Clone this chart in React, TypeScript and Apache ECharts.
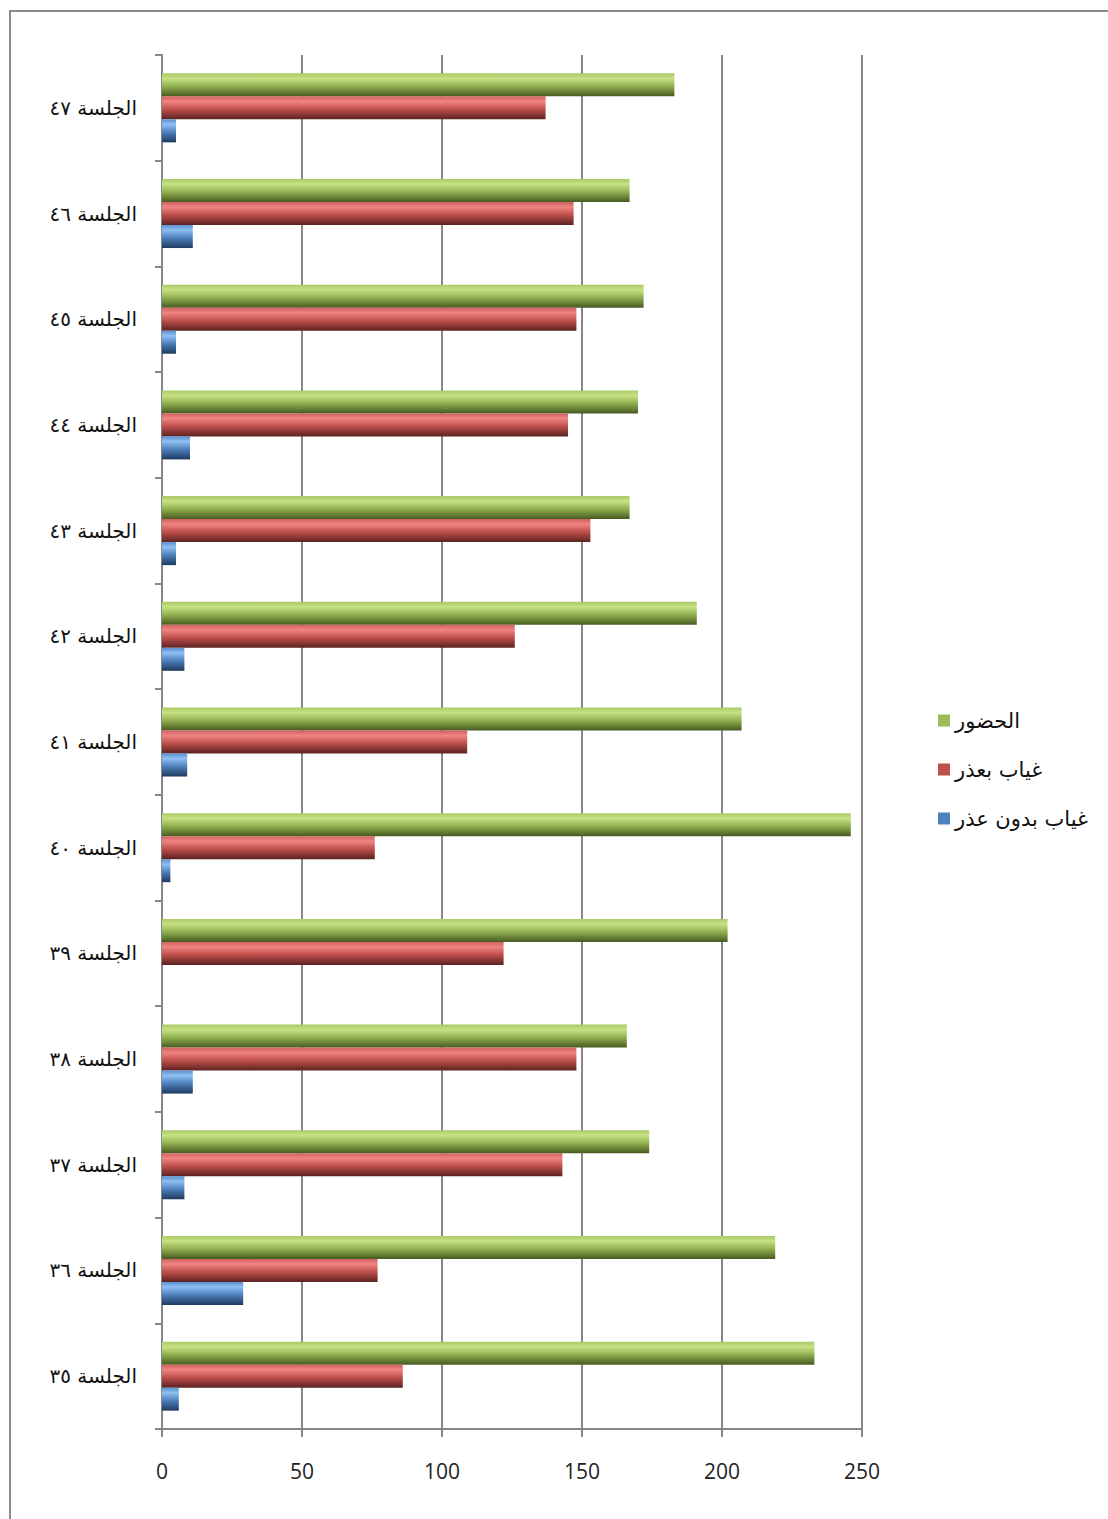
import React, { useEffect, useRef } from "react";
import * as echarts from "echarts";

const categories = [
  "الجلسة ٣٥",
  "الجلسة ٣٦",
  "الجلسة ٣٧",
  "الجلسة ٣٨",
  "الجلسة ٣٩",
  "الجلسة ٤٠",
  "الجلسة ٤١",
  "الجلسة ٤٢",
  "الجلسة ٤٣",
  "الجلسة ٤٤",
  "الجلسة ٤٥",
  "الجلسة ٤٦",
  "الجلسة ٤٧",
];

const attendance = [233, 219, 174, 166, 202, 246, 207, 191, 167, 170, 172, 167, 183];
const excused = [86, 77, 143, 148, 122, 76, 109, 126, 153, 145, 148, 147, 137];
const unexcused = [6, 29, 8, 11, 0, 3, 9, 8, 5, 10, 5, 11, 5];

const nameAttendance = "الحضور";
const nameExcused = "غياب بعذر";
const nameUnexcused = "غياب بدون عذر";

const xTicks = [0, 50, 100, 150, 200, 250];

function grad(top: string, light: string, mid: string, bottom: string) {
  return new echarts.graphic.LinearGradient(0, 0, 0, 1, [
    { offset: 0, color: top },
    { offset: 0.22, color: light },
    { offset: 0.55, color: mid },
    { offset: 1, color: bottom },
  ]);
}

export default function App() {
  const ref = useRef<HTMLDivElement>(null);
  useEffect(() => {
    if (!ref.current) return;
    const chart = echarts.init(ref.current, null, { renderer: "svg" });
    const axisGray = "#878787";
    chart.setOption({
      animation: false,
      backgroundColor: "#ffffff",
      graphic: [
        {
          type: "rect",
          shape: { x: 10, y: 11, width: 1120, height: 1530 },
          style: { fill: "none", stroke: "#8c8c8c", lineWidth: 2 },
          silent: true,
        },
      ],
      legend: {
        orient: "vertical",
        left: 933,
        top: 704,
        itemWidth: 12,
        itemHeight: 12,
        itemGap: 26,
        itemSpacing: 11,
        icon: "rect",
        textStyle: { fontFamily: "DejaVu Sans", fontSize: 21, color: "#111", lineHeight: 23 },
        data: [
          { name: nameAttendance, itemStyle: { color: "#9bbb59" } },
          { name: nameExcused, itemStyle: { color: "#c0504d" } },
          { name: nameUnexcused, itemStyle: { color: "#4f81bd" } },
        ],
      },
      grid: { left: 162, right: 246, top: 55, bottom: 90, containLabel: false },
      xAxis: {
        type: "value",
        min: xTicks[0],
        max: xTicks[xTicks.length - 1],
        interval: 50,
        axisLine: { show: true, lineStyle: { color: axisGray, width: 2 } },
        axisTick: { show: true, length: 8, lineStyle: { color: axisGray, width: 2 } },
        axisLabel: { margin: 31, fontFamily: "Open Sans", fontSize: 21, color: "#222" },
        splitLine: { show: true, lineStyle: { color: axisGray, width: 2 } },
      },
      yAxis: {
        type: "category",
        data: categories,
        axisLine: { show: true, lineStyle: { color: axisGray, width: 2 } },
        axisTick: { show: true, length: 7, lineStyle: { color: axisGray, width: 2 } },
        axisLabel: { margin: 25, fontFamily: "DejaVu Sans", fontSize: 20, color: "#111" },
        splitLine: { show: false },
      },
      series: [
        {
          name: nameAttendance,
          type: "bar",
          data: attendance,
          barWidth: 23,
          barGap: "0%",
          itemStyle: { color: grad("#a9c966", "#c6e284", "#93b352", "#475a20") },
        },
        {
          name: nameExcused,
          type: "bar",
          data: excused,
          barWidth: 23,
          barGap: "0%",
          itemStyle: { color: grad("#d06260", "#f08482", "#c0504d", "#5c2220") },
        },
        {
          name: nameUnexcused,
          type: "bar",
          data: unexcused,
          barWidth: 23,
          barGap: "0%",
          itemStyle: { color: grad("#5a8fd0", "#8fc0f2", "#4f81bd", "#1d3a5f") },
        },
      ],
    });
    return () => chart.dispose();
  }, []);
  return (
    <div
      ref={ref}
      style={{ position: "absolute", left: 0, top: 0, width: 1108, height: 1519 }}
    />
  );
}
